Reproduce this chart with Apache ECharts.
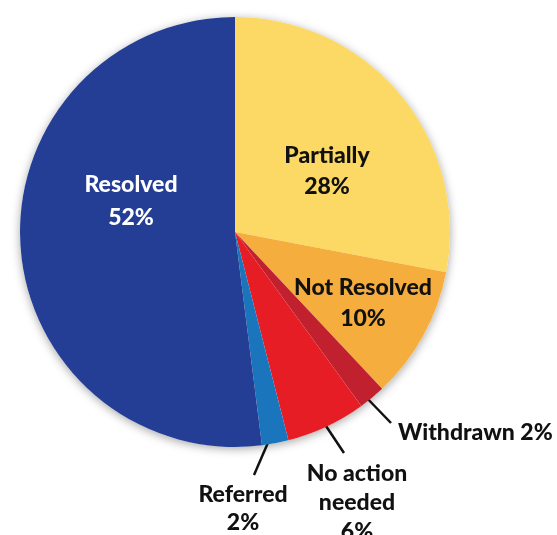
<!DOCTYPE html>
<html>
<head>
<meta charset="utf-8">
<script src="https://cdn.jsdelivr.net/npm/echarts@6/dist/echarts.min.js"></script>
<style>
  html, body { margin: 0; padding: 0; background: #fff; }
  #chart { width: 557px; height: 535px; }
</style>
</head>
<body>
<div id="chart"></div>
<script>
// slices clockwise from 12 o'clock
const names = ['Partially', 'Not Resolved', 'Withdrawn', 'No action needed', 'Referred', 'Resolved'];
const values = [28, 10, 2, 6, 2, 52];
const labelNames = ['Partially', 'Not Resolved', 'Withdrawn', 'No action\nneeded', 'Referred', 'Resolved'];
const colors = ['#fbd964', '#f5ad3e', '#c1202e', '#e71d25', '#1b75bc', '#243e96'];

// label placement (px) and leader lines, by slice
const labelPos = [
  { x: 327, y: 171, align: 'center', lh: 31, color: '#111' },
  { x: 363, y: 303, align: 'center', lh: 31, color: '#111' },
  { x: 398, y: 433, align: 'left', lh: 28, color: '#111', line: [[363, 394], [391, 423]] },
  { x: 357, y: 503, align: 'center', lh: 29, color: '#111', line: [[322, 420], [344, 453]] },
  { x: 243, y: 509, align: 'center', lh: 28, color: '#111', line: [[270, 438], [254, 475]] },
  { x: 131, y: 201, align: 'center', lh: 33, color: '#fff' }
];

const chart = echarts.init(document.getElementById('chart'));

const data = values.map((v, i) => {
  const p = labelPos[i];
  const sep = names[i] === 'Withdrawn' ? ' ' : '\n';
  return {
    name: names[i],
    value: v,
    itemStyle: { color: colors[i] },
    label: {
      position: p.line ? 'outside' : 'inside',
      formatter: labelNames[i] + sep + v + '%',
      color: p.color,
      lineHeight: p.lh,
      align: p.align
    },
    labelLine: { show: !!p.line }
  };
});

chart.setOption({
  animation: false,
  series: [
    {
      // soft shadow behind the pie
      type: 'pie',
      silent: true,
      center: [235, 232],
      radius: 215,
      z: 1,
      label: { show: false },
      labelLine: { show: false },
      itemStyle: {
        color: '#ffffff',
        shadowBlur: 10,
        shadowColor: 'rgba(0,0,0,0.35)',
        shadowOffsetY: 2
      },
      data: [{ value: 1 }]
    },
    {
      type: 'pie',
      center: [235, 232],
      radius: 215,
      startAngle: 90,
      clockwise: true,
      z: 2,
      avoidLabelOverlap: false,
      label: {
        show: true,
        fontFamily: 'Lato',
        fontWeight: 900,
        fontSize: 23
      },
      labelLine: {
        lineStyle: { color: '#111', width: 2.5 }
      },
      labelLayout: function (params) {
        const p = labelPos[params.dataIndex];
        const out = {
          x: p.x,
          y: p.y,
          align: p.align,
          verticalAlign: 'middle'
        };
        if (p.line) {
          out.labelLinePoints = [p.line[0], p.line[1], p.line[1]];
        }
        return out;
      },
      data: data
    }
  ]
});

window.addEventListener('resize', () => chart.resize());
</script>
</body>
</html>
